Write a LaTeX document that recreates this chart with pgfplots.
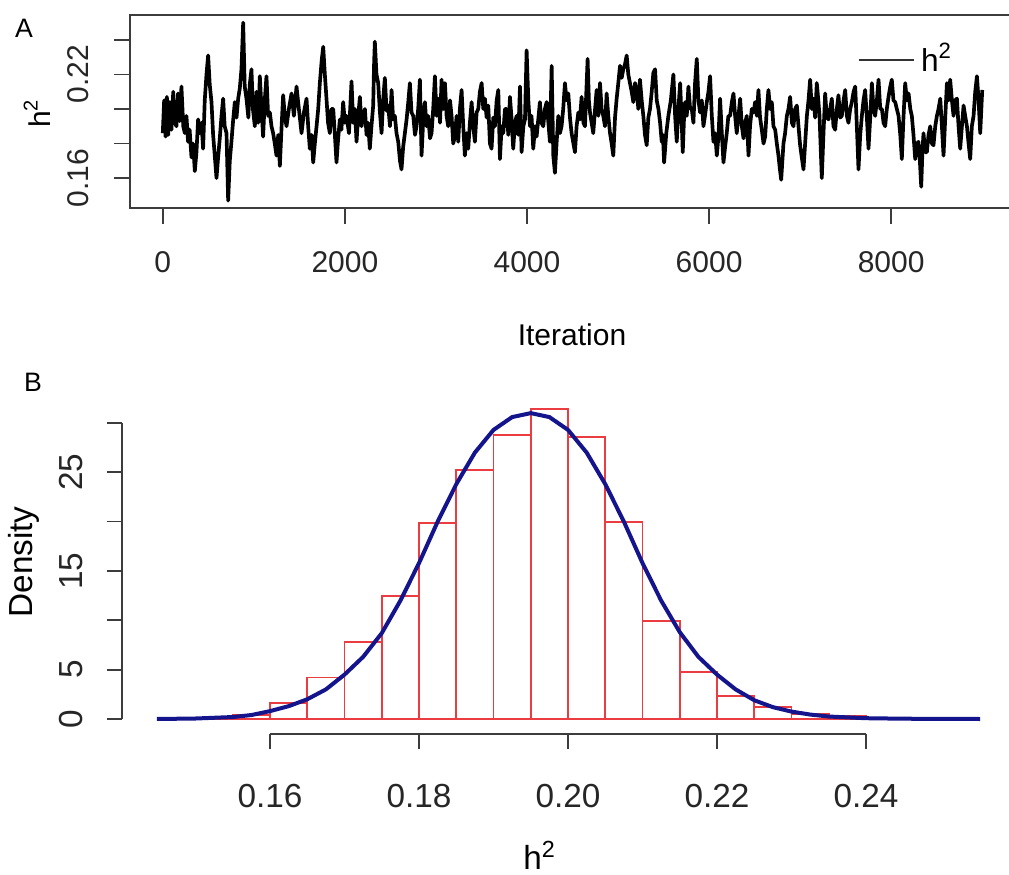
\documentclass[border=0pt]{standalone}
\usepackage{fontspec}
\setmainfont{Liberation Sans}
\usepackage{pgfplots}
\pgfplotsset{compat=1.18}

\definecolor{histred}{RGB}{235,60,65}
\definecolor{densblue}{RGB}{20,20,140}
\definecolor{axisgrey}{RGB}{60,60,60}

\begin{document}
\begin{tikzpicture}
\useasboundingbox (0,0) rectangle (302.7pt,262.5pt);

% ---- panel A: trace ----
\begin{axis}[
  at={(39pt,200.1pt)}, anchor=south west,
  scale only axis, width=265.5pt, height=57.9pt,
  xmin=-360, xmax=9360, ymin=0.1427, ymax=0.2544,
  axis line style={line width=0.5pt, axisgrey},
  tick align=outside, tick pos=left, major tick length=4.8pt,
  every tick/.style={line width=0.5pt, axisgrey},
  scaled ticks=false,
  xtick={0,2000,4000,6000,8000}, xticklabels={0,2000,4000,6000,8000},
  ytick={0.16,0.18,0.20,0.22,0.24}, yticklabels={0.16,,,0.22,},
  tick label style={font=\fontsize{9}{10}\selectfont, text=black!85},
  xticklabel style={anchor=north, inner sep=0pt, yshift=-8pt},
  yticklabel style={xshift=-10.8pt, rotate=90, anchor=center, inner sep=0pt},
  legend style={at={(axis description cs:0.8215,0.767)}, anchor=west,
    draw=none, fill=none, inner sep=0pt,
    font=\fontsize{9.5}{10}\selectfont},
  legend image code/.code={\draw[black!80, line width=0.5pt] (0pt,0pt) -- (16.5pt,0pt);},
]
\addplot[black, line width=1.1pt, line join=round] coordinates {
(0,0.186)(15,0.205)(30,0.184)(45,0.207)(60,0.185)(77,0.204)(95,0.188)(115,0.210)(132,0.192)(150,0.190)
(168,0.209)(185,0.193)(205,0.213)(225,0.190)(242,0.186)(260,0.196)(278,0.181)(295,0.188)(315,0.172)(333,0.180)
(352,0.164)(370,0.175)(388,0.194)(405,0.186)(425,0.192)(443,0.177)(461,0.205)(480,0.220)(498,0.231)(516,0.214)
(535,0.204)(553,0.185)(571,0.173)(590,0.160)(608,0.172)(626,0.183)(645,0.196)(663,0.206)(680,0.190)(700,0.186)
(718,0.147)(736,0.170)(754,0.181)(772,0.193)(791,0.204)(810,0.195)(828,0.206)(846,0.212)(864,0.223)(883,0.250)
(900,0.213)(919,0.206)(940,0.195)(955,0.214)(974,0.223)(990,0.200)(1011,0.190)(1030,0.210)(1048,0.192)(1066,0.219)
(1085,0.200)(1102,0.184)(1120,0.205)(1139,0.219)(1157,0.196)(1176,0.198)(1194,0.190)(1212,0.186)(1230,0.180)(1249,0.173)
(1268,0.185)(1286,0.167)(1305,0.190)(1322,0.208)(1340,0.196)(1359,0.190)(1385,0.200)(1414,0.209)(1440,0.196)(1469,0.213)
(1495,0.200)(1524,0.186)(1550,0.198)(1579,0.206)(1597,0.190)(1615,0.177)(1635,0.185)(1652,0.169)(1670,0.180)(1689,0.190)
(1707,0.200)(1725,0.215)(1745,0.228)(1762,0.236)
(1780,0.220)(1798,0.206)(1815,0.192)(1835,0.186)(1852,0.200)(1872,0.200)(1890,0.185)(1908,0.169)(1925,0.182)(1945,0.194)
(1962,0.188)(1981,0.204)(2000,0.192)(2018,0.196)(2045,0.186)(2073,0.216)(2091,0.192)(2110,0.200)(2128,0.181)(2145,0.195)
(2165,0.207)(2183,0.190)(2201,0.196)(2220,0.200)(2238,0.185)(2255,0.192)(2274,0.177)(2292,0.190)(2311,0.202)(2320,0.225)
(2329,0.239)(2347,0.220)(2366,0.215)(2385,0.198)(2403,0.186)(2420,0.205)(2439,0.218)(2458,0.199)(2476,0.202)(2495,0.190)
(2513,0.211)(2530,0.194)(2549,0.196)(2567,0.186)(2586,0.181)(2605,0.170)(2622,0.165)(2640,0.178)(2659,0.186)(2678,0.194)
(2696,0.204)(2714,0.215)(2732,0.198)(2751,0.196)(2770,0.185)(2787,0.190)(2805,0.200)(2824,0.217)(2842,0.173)(2860,0.193)
(2879,0.204)(2897,0.190)(2915,0.196)(2935,0.183)(2952,0.186)(2970,0.200)(2989,0.219)(3007,0.196)(3025,0.206)(3045,0.192)
(3062,0.217)(3080,0.200)(3099,0.215)(3117,0.196)(3135,0.190)(3155,0.205)(3172,0.196)(3190,0.180)(3208,0.184)(3227,0.196)
(3245,0.181)(3263,0.200)(3282,0.211)(3300,0.190)(3318,0.173)(3337,0.186)(3355,0.177)(3373,0.192)(3392,0.204)(3410,0.190)
(3428,0.181)(3447,0.198)(3465,0.200)(3483,0.210)(3502,0.215)(3520,0.200)(3538,0.206)(3557,0.195)(3575,0.202)
(3593,0.180)(3611,0.177)(3630,0.195)(3648,0.190)(3667,0.205)(3685,0.211)(3703,0.171)(3722,0.190)(3740,0.186)(3758,0.200)
(3776,0.200)(3795,0.185)(3813,0.207)(3830,0.195)(3849,0.177)(3868,0.192)(3886,0.196)(3905,0.185)(3923,0.213)(3941,0.175)
(3960,0.190)(3978,0.194)(3996,0.234)(4015,0.205)(4033,0.190)(4050,0.196)(4069,0.177)(4088,0.190)(4106,0.184)(4124,0.194)
(4142,0.204)(4160,0.192)(4179,0.190)(4197,0.200)(4216,0.204)(4235,0.192)(4252,0.181)(4271,0.225)(4289,0.173)(4307,0.163)
(4325,0.180)(4344,0.196)(4362,0.186)(4380,0.190)(4398,0.200)(4417,0.215)(4435,0.205)(4454,0.209)(4472,0.195)(4490,0.186)
(4510,0.180)(4527,0.175)(4545,0.190)(4564,0.198)(4582,0.194)(4600,0.207)(4620,0.192)(4637,0.190)(4666,0.229)(4680,0.205)
(4692,0.198)(4710,0.192)(4728,0.186)(4748,0.200)(4765,0.211)(4784,0.196)(4802,0.215)(4820,0.200)(4838,0.196)(4857,0.190)
(4875,0.209)(4893,0.196)(4912,0.186)(4930,0.180)(4948,0.173)(4967,0.195)(4985,0.206)(5003,0.215)(5022,0.225)(5040,0.218)
(5058,0.223)(5077,0.226)(5095,0.231)(5113,0.220)(5131,0.215)(5150,0.210)(5168,0.204)(5187,0.215)(5205,0.211)(5223,0.200)
(5241,0.217)(5260,0.205)(5278,0.196)(5296,0.185)(5315,0.179)(5333,0.195)(5351,0.200)(5370,0.210)(5388,0.221)
(5407,0.223)(5425,0.205)(5444,0.200)(5462,0.192)(5480,0.181)(5493,0.185)(5506,0.169)(5530,0.186)(5553,0.196)(5580,0.205)
(5608,0.220)(5627,0.196)(5645,0.181)(5663,0.200)(5682,0.215)(5697,0.196)(5711,0.175)(5725,0.195)(5737,0.204)(5755,0.196)
(5773,0.213)(5792,0.200)(5810,0.200)(5828,0.192)(5846,0.215)(5865,0.229)(5883,0.205)(5901,0.198)(5920,0.205)(5938,0.190)
(5955,0.196)(5975,0.204)(5993,0.210)(6011,0.219)(6030,0.196)(6048,0.181)(6067,0.186)(6085,0.173)(6103,0.184)(6121,0.206)
(6140,0.186)(6158,0.169)(6176,0.178)(6194,0.186)(6212,0.196)(6231,0.196)(6250,0.204)(6268,0.209)(6286,0.196)(6304,0.186)
(6323,0.196)(6341,0.206)(6360,0.190)(6378,0.183)(6396,0.192)(6414,0.196)(6433,0.173)(6450,0.190)(6469,0.200)(6488,0.198)
(6506,0.204)(6525,0.196)(6542,0.211)(6560,0.195)(6579,0.188)(6598,0.180)(6616,0.184)(6634,0.200)(6652,0.211)(6670,0.200)
(6689,0.204)(6707,0.190)(6726,0.188)(6744,0.180)(6762,0.173)(6778,0.165)(6792,0.159)(6805,0.170)(6817,0.180)(6835,0.186)
(6854,0.196)(6872,0.200)(6890,0.207)(6910,0.192)(6927,0.190)(6945,0.200)(6964,0.202)(6982,0.190)(7000,0.179)(7018,0.172)
(7037,0.165)(7055,0.180)(7074,0.196)(7092,0.205)(7110,0.217)(7128,0.200)(7147,0.206)(7165,0.195)(7183,0.215)(7200,0.205)
(7213,0.196)
(7238,0.160)(7256,0.185)(7275,0.209)(7293,0.195)(7312,0.194)(7330,0.200)(7348,0.206)(7366,0.190)(7385,0.188)(7403,0.200)
(7421,0.208)(7440,0.195)(7458,0.196)(7477,0.205)(7495,0.211)(7513,0.196)(7531,0.192)(7550,0.200)(7568,0.204)(7587,0.210)
(7605,0.213)(7623,0.190)(7641,0.165)(7660,0.185)(7678,0.196)(7696,0.205)(7714,0.211)(7733,0.195)(7751,0.177)(7770,0.195)
(7788,0.215)(7806,0.200)(7824,0.196)(7843,0.205)(7861,0.217)(7880,0.200)(7898,0.200)(7916,0.192)(7934,0.190)(7952,0.200)
(7971,0.207)(7990,0.213)(8007,0.217)(8025,0.205)(8044,0.204)(8062,0.200)(8081,0.196)(8100,0.185)(8117,0.171)(8135,0.195)
(8154,0.215)(8172,0.205)(8191,0.209)(8210,0.200)(8227,0.196)(8245,0.185)(8264,0.171)(8282,0.180)(8300,0.181)(8315,0.170)
(8330,0.155)(8343,0.175)(8355,0.186)(8373,0.175)(8392,0.175)(8410,0.185)(8429,0.190)(8447,0.180)(8465,0.179)(8484,0.190)
(8502,0.196)(8520,0.200)(8539,0.206)(8557,0.190)(8575,0.173)(8594,0.195)(8612,0.215)(8630,0.205)(8648,0.217)(8667,0.205)
(8685,0.196)(8703,0.205)(8722,0.206)(8740,0.190)(8758,0.177)(8777,0.190)(8795,0.202)(8813,0.196)(8832,0.190)(8850,0.180)
(8868,0.171)(8886,0.190)(8905,0.196)(8923,0.210)(8942,0.219)(8960,0.205)(8978,0.186)(9000,0.211)
};
\addlegendentry{h\textsuperscript{2}}
\end{axis}

% ---- panel B: histogram + density ----
\begin{axis}[
  at={(36.6pt,42.3pt)}, anchor=south west,
  scale only axis, width=267.3pt, height=102.3pt,
  xmin=0.14013, xmax=0.25973, ymin=-1.52, ymax=33.04,
  axis x line*=bottom, axis y line*=left,
  axis line style={draw=none},
  tick align=outside, major tick length=4.5pt,
  every tick/.style={line width=0.5pt, axisgrey},
  scaled ticks=false, clip=false,
  xtick={0.16,0.18,0.20,0.22,0.24}, xticklabels={0.16,0.18,0.20,0.22,0.24},
  ytick={0,5,10,15,20,25,30}, yticklabels={0,5,,15,,25,},
  tick label style={font=\fontsize{10}{12}\selectfont, text=black!85},
  xticklabel style={anchor=north, inner sep=0pt, yshift=-10.5pt},
  yticklabel style={xshift=-10.8pt, rotate=90, anchor=center, inner sep=0pt},
]
\draw[line width=0.5pt, axisgrey] (axis cs:0.16,-1.52) -- (axis cs:0.24,-1.52);
\draw[line width=0.5pt, axisgrey] (axis cs:0.14013,0) -- (axis cs:0.14013,30);
\addplot[ybar interval, draw=histred, fill=none, line width=0.55pt] coordinates {
(0.150,0.1)(0.155,0.4)(0.160,1.6)(0.165,4.2)(0.170,7.8)(0.175,12.5)(0.180,19.9)(0.185,25.2)
(0.190,28.8)(0.195,31.4)(0.200,28.6)(0.205,20.0)(0.210,9.9)(0.215,4.8)(0.220,2.3)(0.225,1.2)
(0.230,0.5)(0.235,0.3)(0.240,0)
};
\addplot[densblue, line width=1.2pt] coordinates {
(0.1448,0)(0.150,0.05)(0.155,0.2)(0.1575,0.4)(0.160,0.8)(0.1625,1.3)(0.165,2.0)(0.1675,3.0)
(0.170,4.5)(0.1725,6.3)(0.175,8.7)(0.1775,12.0)(0.180,15.8)(0.1825,20.0)(0.185,23.8)(0.1875,27.0)
(0.190,29.3)(0.1925,30.6)(0.195,31.0)(0.1975,30.6)(0.200,29.3)(0.2025,27.0)(0.205,23.8)(0.2075,20.0)
(0.210,15.8)(0.2125,12.0)(0.215,8.8)(0.2175,6.3)(0.220,4.5)(0.2225,3.0)(0.225,1.9)(0.2275,1.2)
(0.230,0.75)(0.2325,0.45)(0.235,0.25)(0.240,0.08)(0.245,0.03)(0.250,0.01)(0.2553,0)
};
\end{axis}

% ---- labels ----
\node[font=\fontsize{8}{9}\selectfont] at (7.2pt,254.1pt) {A};
\node[font=\fontsize{8}{9}\selectfont] at (9.9pt,147.9pt) {B};
\node[rotate=90, font=\fontsize{9}{10}\selectfont] at (11.1pt,228.6pt) {h\textsuperscript{2}};
\node[font=\fontsize{9}{10}\selectfont] at (171.6pt,162pt) {Iteration};
\node[rotate=90, font=\fontsize{10}{12}\selectfont] at (7.2pt,93.9pt) {Density};
\node[font=\fontsize{10}{12}\selectfont] at (162pt,6pt) {h\textsuperscript{2}};
\end{tikzpicture}
\end{document}
